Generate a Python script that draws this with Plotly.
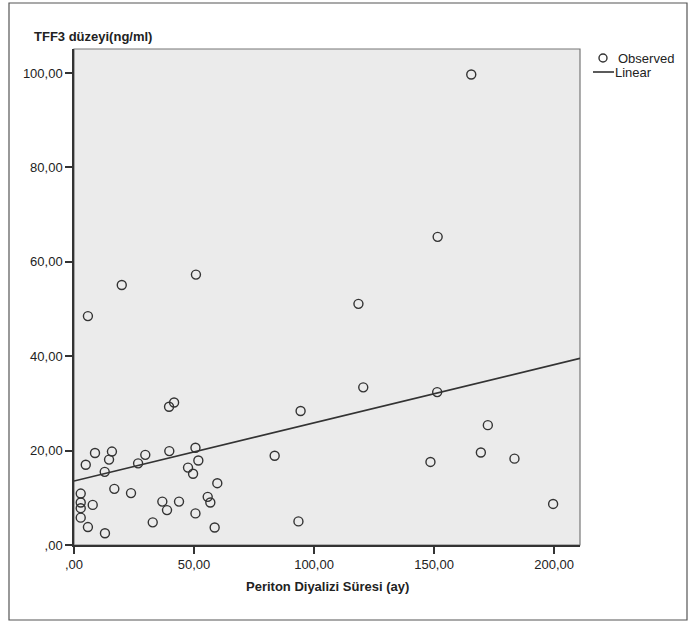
import numpy as np
import plotly.graph_objects as go

periton_months = [165.5, 151.5, 50.8, 19.9, 118.5, 5.8, 39.6, 41.7, 120.5, 151.3,
                  94.4, 172.4, 148.5, 169.5, 183.5, 199.6, 83.6, 93.5, 8.75, 15.8,
                  4.9, 14.6, 12.8, 29.7, 26.7, 39.7, 50.6, 51.8, 47.5, 49.6,
                  59.7, 16.8, 23.75, 2.8, 2.8, 2.8, 2.8, 7.8, 5.8, 12.9,
                  36.8, 38.75, 43.75, 32.8, 50.6, 55.7, 56.8, 58.6]
tff3_levels = [99.7, 65.3, 57.3, 55.1, 51.1, 48.5, 29.3, 30.2, 33.4, 32.4,
               28.4, 25.4, 17.6, 19.6, 18.3, 8.7, 18.9, 5.0, 19.5, 19.8,
               17.0, 18.1, 15.5, 19.1, 17.3, 19.9, 20.6, 17.9, 16.4, 15.1,
               13.1, 11.9, 11.0, 10.9, 9.0, 7.8, 5.8, 8.5, 3.8, 2.5,
               9.2, 7.4, 9.2, 4.8, 6.7, 10.2, 9.0, 3.7]

x_ticks = [0, 50, 100, 150, 200]
x_tick_labels = [",00", "50,00", "100,00", "150,00", "200,00"]
y_ticks = [0, 20, 40, 60, 80, 100]
y_tick_labels = [",00", "20,00", "40,00", "60,00", "80,00", "100,00"]
legend_labels = ["Observed", "Linear"]

x_range = [0, 210.8]
y_range = [0, 105.1]

# Linear fit (SPSS "Linear" fit line)
slope, intercept = np.polyfit(periton_months, tff3_levels, 1)
fit_x = np.array(x_range)
fit_y = intercept + slope * fit_x

FONT = "Liberation Sans, Arial, sans-serif"
ink = "#222222"
mark = "#333333"

W, H = 689, 623
L, R, T, B = 74, 109, 49, 78
pw, ph = W - L - R, H - T - B


def px_x(p):
    return (p - L) / pw


def px_y(p):
    return (H - B - p) / ph


fig = go.Figure()
fig.add_trace(go.Scatter(
    x=periton_months, y=tff3_levels, mode="markers", name=legend_labels[0],
    marker=dict(symbol="circle-open", size=9, color=mark, line=dict(width=1.4, color=mark)),
    cliponaxis=False, showlegend=False,
))
fig.add_trace(go.Scatter(
    x=fit_x, y=fit_y, mode="lines", name=legend_labels[1],
    line=dict(color=mark, width=1.6), showlegend=False,
))

shapes = [
    dict(type="rect", xref="paper", yref="paper", x0=0, x1=1, y0=0, y1=1,
         line=dict(color="#777777", width=1.2), layer="below"),
    dict(type="rect", xref="paper", yref="paper", x0=px_x(9), x1=px_x(687), y0=px_y(620), y1=px_y(3),
         line=dict(color="#555555", width=1.2)),
    # legend symbols
    dict(type="circle", xref="paper", yref="paper", xsizemode="pixel", ysizemode="pixel",
         xanchor=px_x(603), yanchor=px_y(58), x0=-4, x1=4, y0=-4, y1=4,
         line=dict(color=mark, width=1.4)),
    dict(type="line", xref="paper", yref="paper", x0=px_x(593), x1=px_x(614), y0=px_y(72), y1=px_y(72),
         line=dict(color=mark, width=1.6)),
]

annotations = [
    dict(text="<b>TFF3 düzeyi(ng/ml)</b>", xref="paper", yref="paper",
         x=px_x(32), y=px_y(36), xanchor="left", yanchor="middle", showarrow=False,
         font=dict(size=13, color=ink)),
    dict(text="<b>Periton Diyalizi Süresi (ay)</b>", xref="paper", yref="paper",
         x=0.5, y=px_y(586), xanchor="center", yanchor="middle", showarrow=False,
         font=dict(size=13, color=ink)),
    dict(text=legend_labels[0], xref="paper", yref="paper",
         x=px_x(616), y=px_y(58), xanchor="left", yanchor="middle", showarrow=False,
         font=dict(size=13, color=ink)),
    dict(text=legend_labels[1], xref="paper", yref="paper",
         x=px_x(613), y=px_y(72), xanchor="left", yanchor="middle", showarrow=False,
         font=dict(size=13, color=ink)),
]

fig.update_layout(
    width=W, height=H,
    margin=dict(l=L, r=R, t=T, b=B),
    paper_bgcolor="white",
    plot_bgcolor="#ebebeb",
    font=dict(family=FONT, size=13, color=ink),
    showlegend=False,
    xaxis=dict(range=x_range, tickvals=x_ticks, ticktext=x_tick_labels,
               showgrid=False, zeroline=False, showline=True, linecolor=mark, linewidth=1.5,
               ticks="outside", ticklen=7, tickwidth=1.5, tickcolor=mark,
               tickfont=dict(size=13, color=ink)),
    yaxis=dict(range=y_range, tickvals=y_ticks, ticktext=y_tick_labels,
               showgrid=False, zeroline=False, showline=True, linecolor=mark, linewidth=1.5,
               ticks="outside", ticklen=7, tickwidth=1.5, tickcolor=mark,
               tickfont=dict(size=13, color=ink)),
    shapes=shapes,
    annotations=annotations,
)

fig.write_html("out.html",
               config={"displayModeBar": False},
               post_script="document.body.style.margin='0';document.body.style.overflow='hidden';")
